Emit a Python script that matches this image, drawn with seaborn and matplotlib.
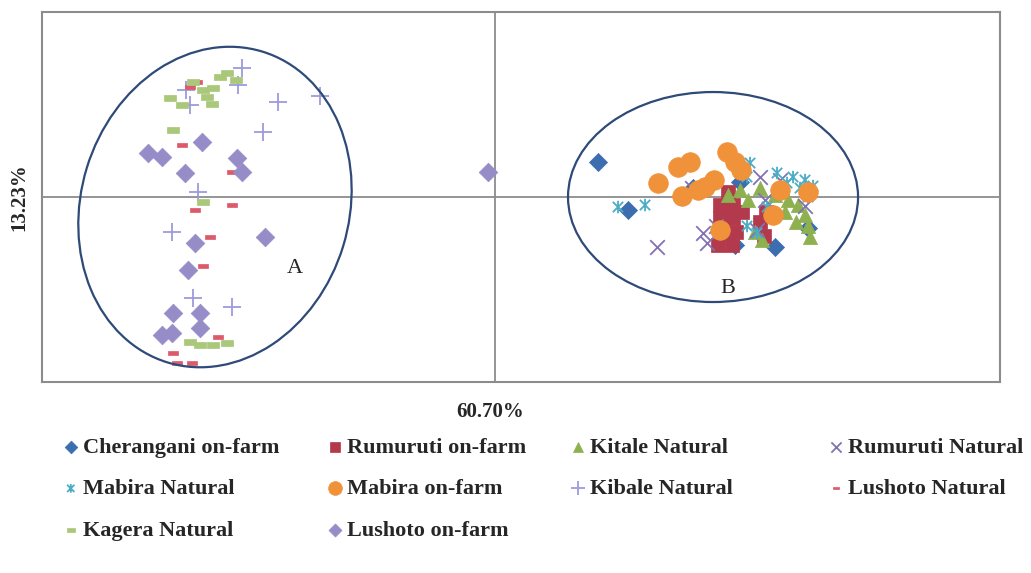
import matplotlib
matplotlib.use("Agg")
import matplotlib.pyplot as plt
import seaborn as sns
import pandas as pd
from matplotlib.patches import Ellipse
from matplotlib.path import Path

# ---- data (PCA scores) ----
cherangani_onfarm_x = [1.03, 1.33, 2.80, 2.45, 1.98, 3.13, 2.40]
cherangani_onfarm_y = [0.35, -0.13, -0.50, 0.15, 0.09, -0.31, -0.48]

rumuruti_onfarm_x = [2.25, 2.38, 2.25, 2.38, 2.27, 2.41, 2.23, 2.37, 2.65, 2.71, 2.69, 2.47, 2.33]
rumuruti_onfarm_y = [-0.08, -0.08, -0.21, -0.21, -0.35, -0.35, -0.48, -0.48, -0.25, -0.15, -0.39, -0.15, 0.05]

kitale_natural_x = [2.33, 2.53, 2.65, 2.80, 2.93, 3.03, 3.10, 3.13, 3.15, 3.01, 2.67, 2.60, 2.05, 2.90, 2.45]
kitale_natural_y = [0.02, -0.03, 0.09, 0.02, -0.03, -0.08, -0.18, -0.29, -0.40, -0.25, -0.43, -0.35, 0.11, -0.15, 0.07]

rumuruti_natural_x = [1.62, 2.08, 2.12, 2.65, 2.62, 2.21, 1.97, 2.70, 3.10, 2.85]
rumuruti_natural_y = [-0.50, -0.36, -0.46, 0.20, -0.33, -0.29, 0.09, -0.03, -0.09, 0.17]

mabira_natural_x = [1.50, 2.55, 2.82, 2.98, 3.10, 3.18, 3.05, 2.92, 2.52, 3.13, 2.72, 2.62, 2.52, 1.23]
mabira_natural_y = [-0.08, 0.34, 0.24, 0.20, 0.17, 0.11, 0.09, 0.14, 0.20, 0.00, -0.10, -0.36, -0.29, -0.10]

mabira_onfarm_x = [1.63, 1.83, 1.95, 1.87, 2.10, 2.19, 2.32, 2.40, 2.46, 2.85, 2.78, 2.25, 2.03, 3.13]
mabira_onfarm_y = [0.14, 0.30, 0.35, 0.01, 0.10, 0.17, 0.45, 0.35, 0.27, 0.07, -0.18, -0.33, 0.07, 0.05]

kibale_natural_x = [-2.53, -2.57, -2.17, -1.75, -2.32, -3.05, -3.09, -2.97, -3.23, -3.02, -2.63]
kibale_natural_y = [1.29, 1.12, 0.95, 1.01, 0.65, 0.92, 1.07, 0.05, -0.35, -1.01, -1.10]

lushoto_natural_x = [-3.13, -2.63, -3.00, -2.63, -2.85, -2.92, -2.77, -3.22, -3.18, -3.03, -3.05, -2.98]
lushoto_natural_y = [0.52, 0.25, -0.13, -0.08, -0.40, -0.69, -1.40, -1.56, -1.66, -1.66, 1.10, 1.15]

kagera_natural_x = [-3.25, -3.13, -2.88, -2.82, -2.68, -2.75, -2.92, -3.22, -2.92, -3.05, -2.95, -2.82, -2.68, -3.02, -2.59, -2.83]
kagera_natural_y = [0.99, 0.92, 1.00, 1.09, 1.24, 1.20, 1.07, 0.67, -0.05, -1.45, -1.48, -1.48, -1.46, 1.15, 1.17, 0.93]

lushoto_onfarm_x = [-3.47, -3.33, -2.93, -3.10, -2.58, -2.53, -2.30, -3.00, -3.07, -3.22, -2.95, -2.95, -3.23, -3.33, -0.07]
lushoto_onfarm_y = [0.44, 0.40, 0.55, 0.24, 0.39, 0.25, -0.40, -0.46, -0.73, -1.16, -1.16, -1.31, -1.36, -1.38, 0.25]

x_label = "60.70%"
y_label = "13.23%"

# ---- markers ----
dash_marker = Path([(-1, -0.45), (1, -0.45), (1, 0.45), (-1, 0.45), (-1, -0.45)],
                   [Path.MOVETO, Path.LINETO, Path.LINETO, Path.LINETO, Path.CLOSEPOLY])
star_marker = Path([(-1, -1), (1, 1), (-1, 1), (1, -1), (0, -1.2), (0, 1.2)],
                   [Path.MOVETO, Path.LINETO, Path.MOVETO, Path.LINETO, Path.MOVETO, Path.LINETO])

series = [
    ("Cherangani on-farm", cherangani_onfarm_x, cherangani_onfarm_y, "#3C6EAF", "D", 85, "filled"),
    ("Rumuruti on-farm", rumuruti_onfarm_x, rumuruti_onfarm_y, "#B23A4C", "s", 95, "filled"),
    ("Kitale Natural", kitale_natural_x, kitale_natural_y, "#8FB04F", "^", 105, "filled"),
    ("Rumuruti Natural", rumuruti_natural_x, rumuruti_natural_y, "#8272B4", "x", 110, "line"),
    ("Mabira Natural", mabira_natural_x, mabira_natural_y, "#4BACC6", star_marker, 80, "path"),
    ("Mabira on-farm", mabira_onfarm_x, mabira_onfarm_y, "#F0923A", "o", 200, "filled"),
    ("Kibale Natural", kibale_natural_x, kibale_natural_y, "#9D9BDC", "+", 180, "line"),
    ("Lushoto Natural", lushoto_natural_x, lushoto_natural_y, "#DD5A6A", dash_marker, 45, "filled"),
    ("Kagera Natural", kagera_natural_x, kagera_natural_y, "#A9C87A", dash_marker, 80, "filled"),
    ("Lushoto on-farm", lushoto_onfarm_x, lushoto_onfarm_y, "#968CC8", "D", 90, "filled"),
]

sns.set_style("white")
plt.rcParams["font.family"] = ["Liberation Serif", "DejaVu Serif"]

fig = plt.figure(figsize=(10.31, 5.73), dpi=100)
ax = fig.add_axes([0.0407, 0.3333, 0.9293, 0.6457])

ax.axhline(0, color="#8c8c8c", lw=1.3, zorder=0)
ax.axvline(0, color="#8c8c8c", lw=1.3, zorder=0)

for name, xs, ys, col, mk, sz, kind in series:
    df = pd.DataFrame({"x": xs, "y": ys})
    if kind == "filled":
        sns.scatterplot(data=df, x="x", y="y", ax=ax, marker=mk, s=sz, color=col,
                        edgecolor=col, linewidth=0.5, label=name, zorder=3)
    elif kind == "path":
        sns.scatterplot(data=df, x="x", y="y", ax=ax, marker=mk, s=sz, color=col,
                        facecolor="none", edgecolor=col, linewidth=1.3, label=name, zorder=3)
    else:
        sns.scatterplot(data=df, x="x", y="y", ax=ax, marker=mk, s=sz, color=col,
                        linewidth=1.3, label=name, zorder=3)

ell_a = Ellipse((-2.80, -0.10), 2.68, 3.25, angle=-17, fill=False, edgecolor="#2E4A78", lw=1.6, zorder=4)
ell_b = Ellipse((2.18, 0.0), 2.90, 2.10, angle=0, fill=False, edgecolor="#2E4A78", lw=1.6, zorder=4)
ax.add_patch(ell_a)
ax.add_patch(ell_b)
ax.text(-2.0, -0.71, "A", fontsize=16, ha="center", va="center")
ax.text(2.33, -0.91, "B", fontsize=16, ha="center", va="center")

ax.set_xlim(-4.53, 5.05)
ax.set_ylim(-1.85, 1.85)
ax.set_xticks([])
ax.set_yticks([])
ax.set_xlabel("")
ax.set_ylabel("")
for sp in ax.spines.values():
    sp.set_color("#8c8c8c")
    sp.set_linewidth(1.5)

fig.text(0.475, 0.281, x_label, fontsize=15, fontweight="bold", ha="center", va="center")
fig.text(0.019, 0.656, y_label, fontsize=15, fontweight="bold", ha="center", va="center", rotation=90)

h, l = ax.get_legend_handles_labels()
ax.get_legend().remove()
hd = dict(zip(l, h))
columns = [
    ["Cherangani on-farm", "Mabira Natural", "Kagera Natural"],
    ["Rumuruti on-farm", "Mabira on-farm", "Lushoto on-farm"],
    ["Kitale Natural", "Kibale Natural"],
    ["Rumuruti Natural", "Lushoto Natural"],
]
text_starts = [83, 347, 590, 848]
fs = 16
offset_px = (0.8 + 0.15) * fs * 100 / 72
for names, xs in zip(columns, text_starts):
    fig.legend([hd[n] for n in names], names, loc="upper left",
               bbox_to_anchor=((xs - offset_px) / 1031, 1 - 437 / 573),
               frameon=False, prop={"size": fs, "weight": "bold"},
               borderpad=0, borderaxespad=0, handletextpad=0.15, handlelength=0.8,
               labelspacing=0.95, markerscale=0.7)

fig.savefig("out.png", dpi=100)
